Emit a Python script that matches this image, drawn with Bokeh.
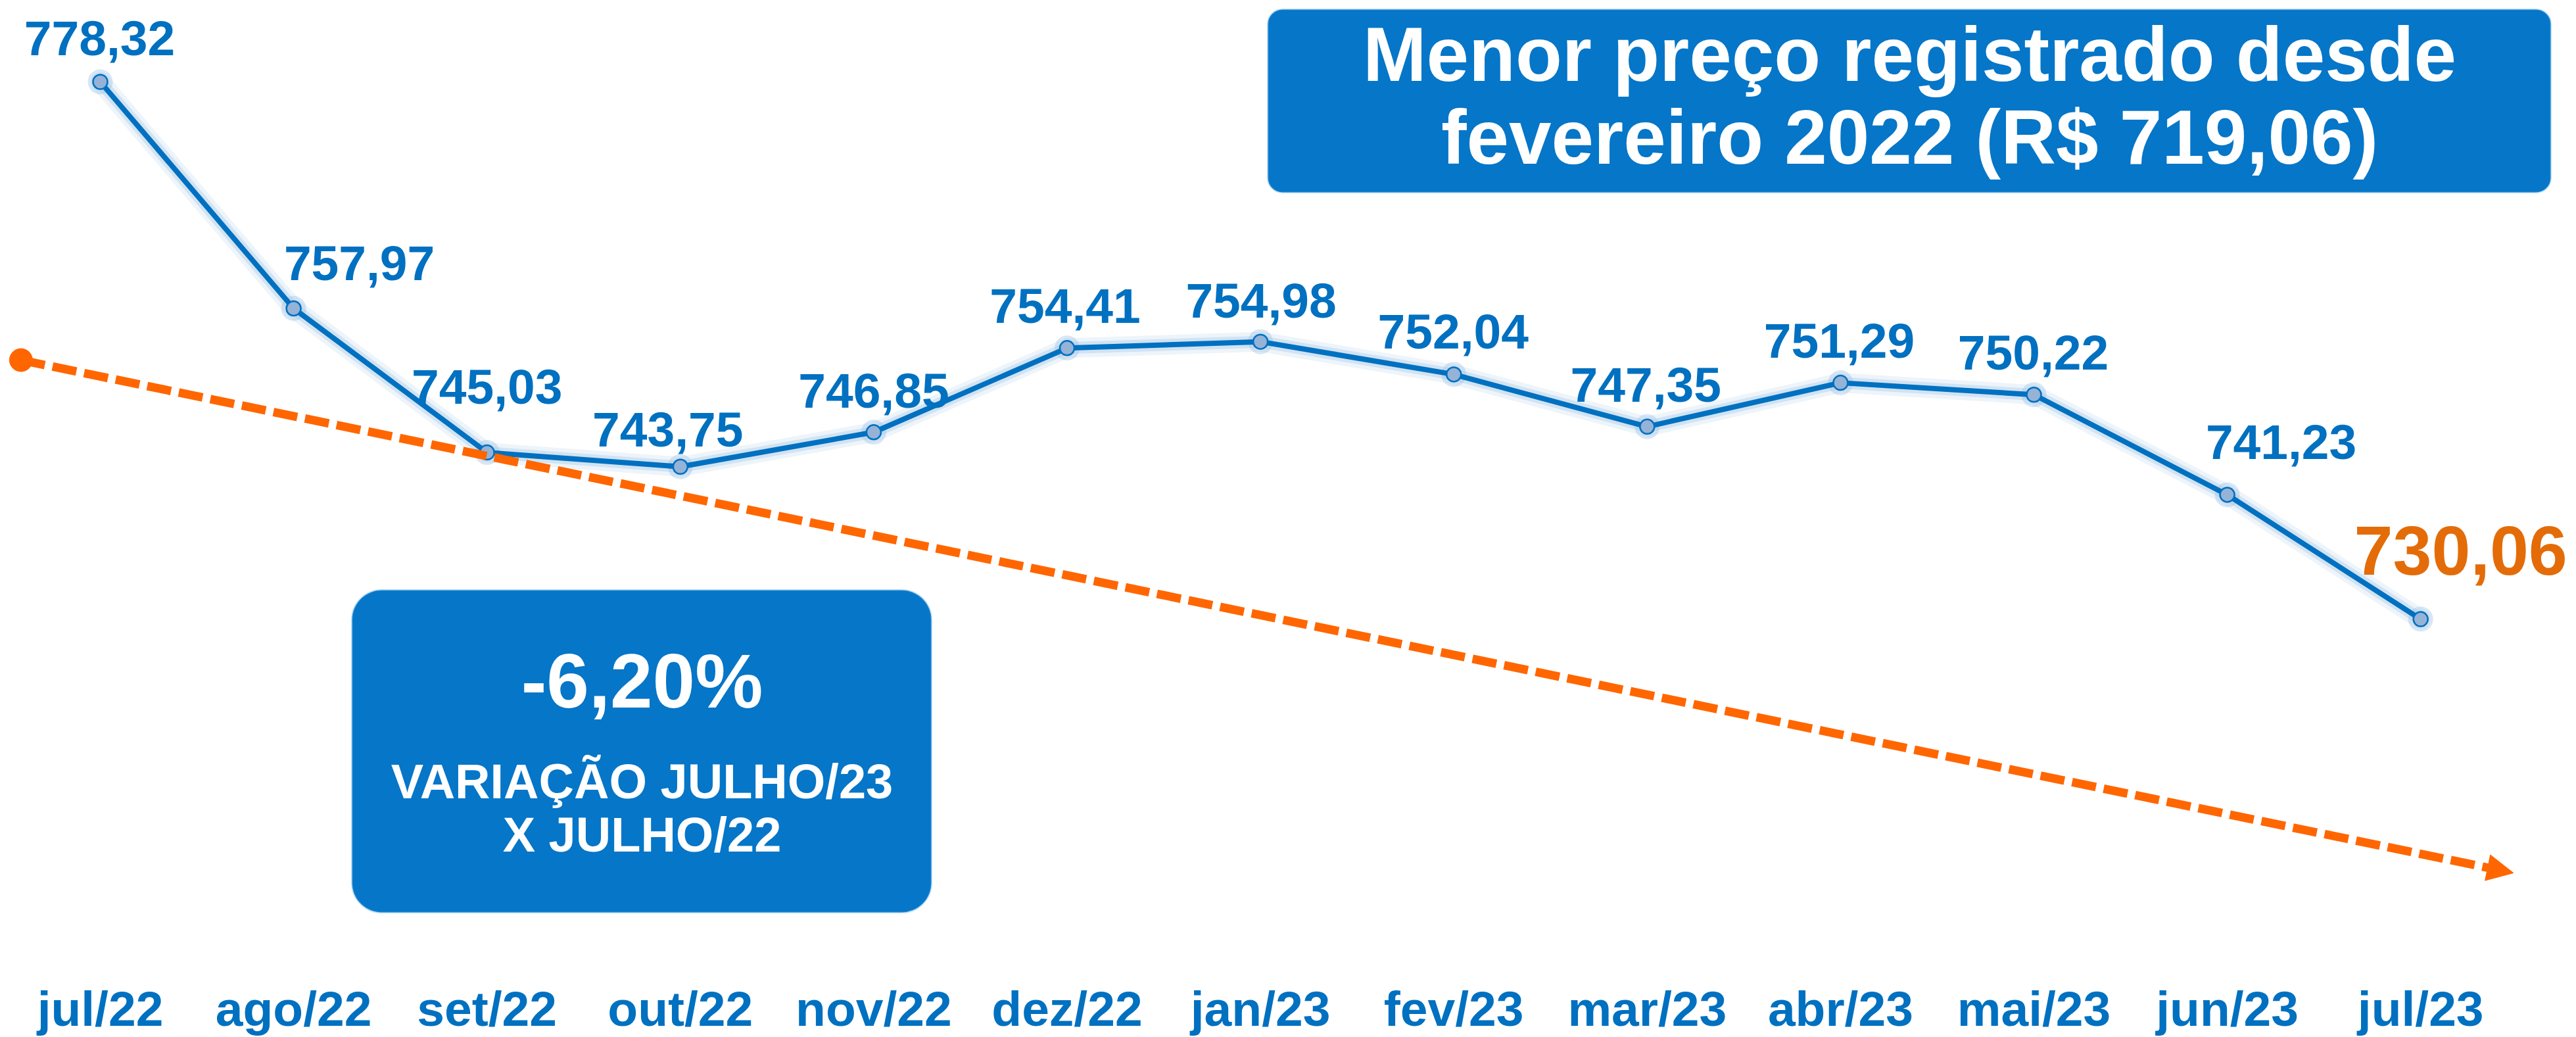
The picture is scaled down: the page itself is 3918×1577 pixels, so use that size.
from bokeh.plotting import figure
from bokeh.models import (ColumnDataSource, Range1d, FixedTicker, BoxAnnotation,
                          Label, Arrow, NormalHead)
from bokeh.core.properties import value
from bokeh.embed import file_html
from bokeh.resources import INLINE

# ---------------- data ----------------
MONTHS = ["jul/22", "ago/22", "set/22", "out/22", "nov/22", "dez/22", "jan/23",
          "fev/23", "mar/23", "abr/23", "mai/23", "jun/23", "jul/23"]
PRICES = [778.32, 757.97, 745.03, 743.75, 746.85, 754.41, 754.98,
          752.04, 747.35, 751.29, 750.22, 741.23, 730.06]
TREND_X = [-0.41, 12.48]
TREND_Y = [753.33, 707.26]
HEADLINE = ["Menor preço registrado desde", "fevereiro 2022 (R$ 719,06)"]
VARIATION = "-6,20%"
VARIATION_TEXT = ["VARIAÇÃO JULHO/23", "X JULHO/22"]

# ---------------- layout ----------------
FONT = "Liberation Sans"
BLUE = "#0070C0"
ORANGE_LINE = "#FF6600"
ORANGE_TEXT = "#E36C09"
BOX_FILL = "#0576C8"

FRAME_W = 3918
FRAME_H = 1487
PX_PER_X = 294.1
PX_PER_Y = 16.93
X_START = (0 - 152) / PX_PER_X
X_END = X_START + FRAME_W / PX_PER_X
Y_END = PRICES[0] + 124 / PX_PER_Y
Y_START = Y_END - FRAME_H / PX_PER_Y
MID = 0.35  # baseline -> middle anchor, in em


def rx(px):
    return X_START + px / PX_PER_X


def ry(py):
    return Y_END - py / PX_PER_Y


# label offsets in screen pixels (right / baseline above point)
LABEL_DX = [-1, 100, 0, -19, 0, -3, 1, -1, -2, -2, -1, 82, 61]
LABEL_DY = [40, 43, 74, 31, 37, 38, 36, 39, 38, 38, 38, 54, 67]
LABEL_SIZE = 75
LAST_SIZE = 106

idx = list(range(len(MONTHS)))
labels = [f"{v:.2f}".replace(".", ",") for v in PRICES]

p = figure(frame_width=FRAME_W, frame_height=FRAME_H,
           x_range=Range1d(X_START, X_END), y_range=Range1d(Y_START, Y_END),
           output_backend="svg", toolbar_location=None, y_axis_location=None,
           min_border_left=0, min_border_right=0, min_border_top=0, min_border_bottom=0,
           outline_line_color=None, background_fill_color="white",
           border_fill_color="white")
p.grid.visible = False

ax = p.xaxis[0]
ax.ticker = FixedTicker(ticks=idx)
ax.major_label_overrides = {i: m for i, m in zip(idx, MONTHS)}
ax.axis_line_color = None
ax.major_tick_line_color = None
ax.minor_tick_line_color = None
ax.major_tick_out = 0
ax.major_tick_in = 0
ax.major_label_standoff = 4
ax.major_label_text_font = FONT
ax.major_label_text_font_style = "bold"
ax.major_label_text_font_size = "75px"
ax.major_label_text_color = BLUE

src = ColumnDataSource(dict(x=idx, y=PRICES))

# glow
p.line("x", "y", source=src, line_color="#9DC3E6", line_width=30, line_alpha=0.18,
       line_join="round", line_cap="round")
p.line("x", "y", source=src, line_color="#9DC3E6", line_width=18, line_alpha=0.35,
       line_join="round", line_cap="round")
p.scatter("x", "y", source=src, size=38, fill_color="#9DC3E6", fill_alpha=0.4,
          line_color=None)
# main line
p.line("x", "y", source=src, line_color=BLUE, line_width=8, line_join="round")
p.scatter("x", "y", source=src, size=22, fill_color="#95B3D7",
          line_color=BLUE, line_width=2.5)

n = len(PRICES) - 1
lab_src = ColumnDataSource(dict(
    x=idx[:n], y=PRICES[:n], text=labels[:n], dx=LABEL_DX[:n],
    dy=[-(d + MID * LABEL_SIZE) for d in LABEL_DY[:n]]))
p.text("x", "y", text="text", source=lab_src, x_offset="dx", y_offset="dy",
       text_align="center", text_baseline="middle",
       text_font=value(FONT), text_font_style="bold",
       text_font_size=f"{LABEL_SIZE}px", text_color=BLUE)
last_src = ColumnDataSource(dict(
    x=idx[n:], y=PRICES[n:], text=labels[n:], dx=LABEL_DX[n:],
    dy=[-(d + MID * LAST_SIZE) for d in LABEL_DY[n:]]))
p.text("x", "y", text="text", source=last_src, x_offset="dx", y_offset="dy",
       text_align="center", text_baseline="middle",
       text_font=value(FONT), text_font_style="bold",
       text_font_size=f"{LAST_SIZE}px", text_color=ORANGE_TEXT)

# trend arrow
p.scatter([TREND_X[0]], [TREND_Y[0]], size=35, color=ORANGE_LINE)
p.add_layout(Arrow(end=NormalHead(size=40, fill_color=ORANGE_LINE,
                                  line_color=ORANGE_LINE, line_width=1),
                   x_start=TREND_X[0], y_start=TREND_Y[0],
                   x_end=TREND_X[1], y_end=TREND_Y[1],
                   line_color=ORANGE_LINE, line_width=13, line_dash="37 12"))


def add_text(txt, cx, baseline, size):
    p.add_layout(Label(x=rx(cx), y=ry(baseline - MID * size), text=txt,
                       text_align="center", text_baseline="middle",
                       text_font=FONT, text_font_style="bold",
                       text_font_size=f"{size}px", text_color="white"))


# headline box
p.add_layout(BoxAnnotation(left=rx(1928), right=rx(3879), top=ry(14), bottom=ry(292),
                           fill_color=BOX_FILL, fill_alpha=1.0,
                           line_color="#3D9DE2", line_width=3, border_radius=22))
for txt, base in zip(HEADLINE, [123, 249]):
    add_text(txt, 2904, base, 116)

# variation box
p.add_layout(BoxAnnotation(left=rx(535), right=rx(1416), top=ry(897), bottom=ry(1387),
                           fill_color=BOX_FILL, fill_alpha=1.0,
                           line_color="#3D9DE2", line_width=3, border_radius=45))
add_text(VARIATION, 976, 1076, 116)
for txt, base in zip(VARIATION_TEXT, [1214, 1295]):
    add_text(txt, 976, base, 74)

open("out.html", "w").write(file_html(p, INLINE))
